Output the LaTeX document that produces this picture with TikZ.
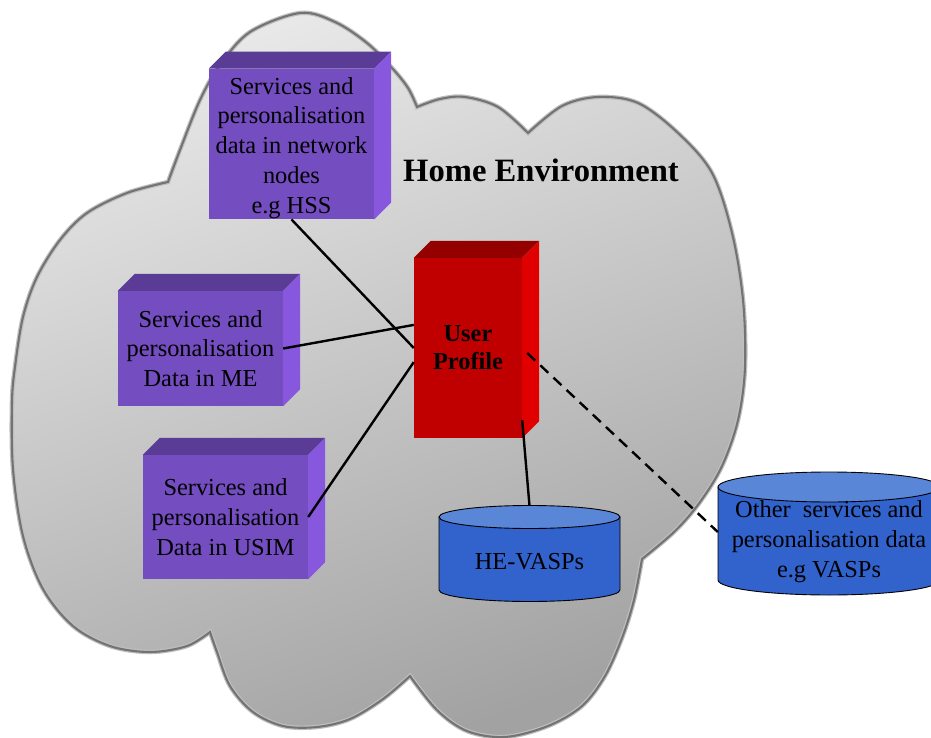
\documentclass[tikz,border=0pt]{standalone}
\usepackage{fontspec}
\setmainfont{Liberation Serif}
\usetikzlibrary{calc}
\definecolor{purpF}{HTML}{744EC0}
\definecolor{purpT}{HTML}{5A3B96}
\definecolor{purpS}{HTML}{8757DD}
\definecolor{redF}{HTML}{C00000}
\definecolor{redT}{HTML}{940000}
\definecolor{redS}{HTML}{E00000}
\definecolor{cylB}{HTML}{3262CB}
\definecolor{cylT}{HTML}{5A86D7}
\definecolor{cloudT}{HTML}{E8E8E8}
\definecolor{cloudM}{HTML}{D4D4D4}
\definecolor{cloudB}{HTML}{A2A2A2}
\pgfdeclarelayer{bg}\pgfdeclarelayer{mid}\pgfsetlayers{bg,mid,main}
\newcommand\boxfaces[4]{%
 \fill[#3] (#1.north west) -- ++(#2,-#2) -- ($(#1.north east)+(#2,-#2)$) -- (#1.north east) -- cycle;
 \fill[#4] (#1.north east) -- ++(#2,-#2) -- ($(#1.south east)+(#2,-#2)$) -- (#1.south east) -- cycle;}
\newcommand\mycyl[5]{%
 \begin{pgfonlayer}{mid}
 \filldraw[fill=cylB, draw=black, line width=0.9pt] (#1-#4,#2) -- (#1-#4,#3) arc[start angle=180, end angle=360, x radius=#4pt, y radius=#5pt] -- (#1+#4,#2) -- cycle;
 \filldraw[fill=cylT, draw=black, line width=0.9pt] (#1,#2) ellipse [x radius=#4pt, y radius=#5pt];
 \end{pgfonlayer}}
\begin{document}
\begin{tikzpicture}[x=1pt,y=-1pt,
  cubefront/.style={fill=purpF, inner sep=1pt, align=center, text=black, font=\fontsize{24.4}{29.7}\selectfont},
  upfront/.style={fill=redF, inner sep=1pt, align=center, text=black, font=\fontsize{24.4}{28}\selectfont\bfseries},
  cyltext/.style={inner sep=0pt, align=center, text=black, font=\fontsize{24.4}{30}\selectfont},
  conn/.style={line width=2.4pt, black},
  dconn/.style={conn, dash pattern=on 11pt off 7pt}]
\useasboundingbox (0,0) rectangle (931,738);
\begin{pgfonlayer}{bg}
\path[top color=cloudT, middle color=cloudM, bottom color=cloudB, shading angle=20, draw=black!25, line width=4.5pt, postaction={draw=black!55, line width=2.1pt}]
 plot[smooth,tension=.55] coordinates {(168,182) (180,150) (200,100) (220,65) (250,32) (300,13) (335,22) (367,43) (392,68) (408,88) (417,107)}
 -- plot[smooth,tension=.55] coordinates {(417,107) (440,99) (465,97) (498,107) (528,133)}
 -- plot[smooth,tension=.55] coordinates {(528,133) (562,106) (598,97) (638,103) (678,133) (712,173) (732,233) (743,300) (745,367) (738,420) (722,466) (700,502) (675,531) (642,559)}
 -- plot[smooth,tension=.55] coordinates {(642,559) (634,600) (622,638) (605,676) (582,706) (548,726) (505,737) (467,731) (437,710) (410,676)}
 -- plot[smooth,tension=.55] coordinates {(410,676) (383,699) (350,719) (317,727) (283,726) (253,712) (230,686) (217,652) (210,632)}
 -- plot[smooth,tension=.55] coordinates {(210,632) (187,646) (150,652) (110,646) (73,626) (43,589) (23,536) (13,469) (12,402) (15,367) (23,317) (37,277) (60,240) (87,213) (127,193) (168,182)}
 -- cycle;
\end{pgfonlayer}
\node[font=\fontsize{32.6}{38}\selectfont\bfseries] (HE) at (541,170) {Home Environment};
\node[cubefront, minimum width=165pt, minimum height=150pt] (HSS) at (291.5,144) {\rule{0pt}{24.5pt}Services and\\personalisation\\data in network\\nodes\\e.g HSS};
\node[cubefront, minimum width=165pt, minimum height=115pt] (ME) at (200.5,348.5) {Services and\\personalisation\\Data in ME};
\node[cubefront, minimum width=165pt, minimum height=124pt] (USIM) at (225.5,517) {Services and\\personalisation\\Data in USIM};
\node[upfront, minimum width=108pt, minimum height=180pt] (UP) at (468,348) {User\\Profile};
\boxfaces{HSS}{17}{purpT}{purpS}
\boxfaces{ME}{17}{purpT}{purpS}
\boxfaces{USIM}{17}{purpT}{purpS}
\boxfaces{UP}{17}{redT}{redS}
\mycyl{529.5}{517}{590}{90.5}{11.5}
\mycyl{829}{487}{580}{111}{15}
\node[cyltext, minimum width=181pt, minimum height=112pt] (HEV) at (529.5,562) {HE-VASPs};
\node[cyltext, minimum width=222pt, minimum height=93pt] (OTH) at (829,542) {Other~ services and\\personalisation data\\e.g VASPs};
\draw[conn] (HSS.south) -- (UP.west);
\draw[conn] (ME.east) -- ($(UP.north west)!0.372!(UP.south west)$);
\draw[conn] (USIM.east) -- ($(UP.north west)!0.578!(UP.south west)$);
\draw[conn] ($(UP.north east)!0.9!(UP.south east)$) -- (HEV.north);
\draw[dconn] ($(UP.east)+(5,5)$) -- ($(OTH.west)+(0,-10)$);
\end{tikzpicture}
\end{document}
